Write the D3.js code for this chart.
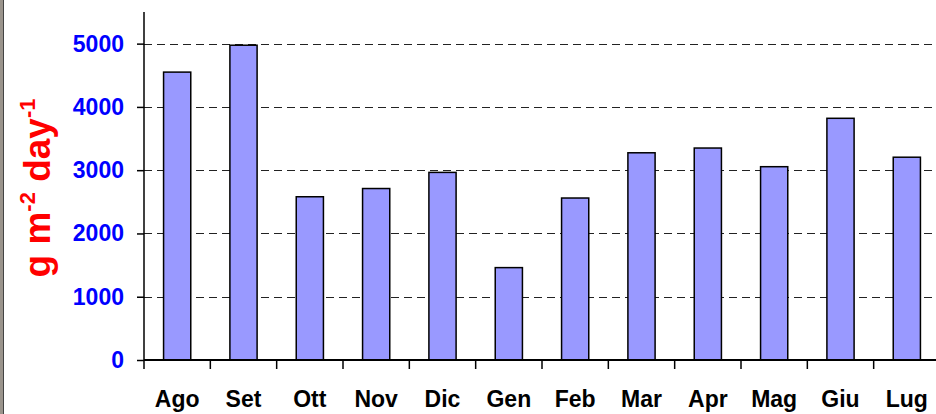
<!DOCTYPE html>
<html>
<head>
<meta charset="utf-8">
<script src="https://cdn.jsdelivr.net/npm/d3@7"></script>
<style>
  body { margin: 0; background: #fff; }
  svg { display: block; font-family: "Liberation Sans", Arial, sans-serif; }
</style>
</head>
<body>
<div id="wrapper"></div>
<script>
// mesi e valori (g m-2 day-1)
const months = ["Ago", "Set", "Ott", "Nov", "Dic", "Gen", "Feb", "Mar", "Apr", "Mag", "Giu", "Lug"];
const values = [4550, 4975, 2580, 2710, 2965, 1460, 2560, 3275, 3350, 3055, 3820, 3205];
const yTicks = [0, 1000, 2000, 3000, 4000, 5000];

const width = 936, height = 414;
const margin = { top: 12, left: 144, bottom: 54, right: -4 };

const svg = d3.select("#wrapper")
    .append("svg")
    .attr("width", width)
    .attr("height", height);

// bordo sinistro
svg.append("rect").attr("x", 0).attr("y", 0).attr("width", 3).attr("height", height).attr("fill", "#9a948c");
svg.append("line").attr("x1", 3.5).attr("x2", 3.5).attr("y1", 0).attr("y2", height)
    .attr("stroke", "#444").attr("stroke-width", 1);

const x = d3.scaleBand()
    .domain(months)
    .range([margin.left, width - margin.right])
    .paddingInner(0.59)
    .paddingOuter(0.295);

const y = d3.scaleLinear()
    .domain([0, 5500])
    .range([height - margin.bottom, margin.top]);

// griglia tratteggiata
svg.append("g")
    .selectAll("line")
    .data(yTicks.filter(d => d > 0))
    .enter()
    .append("line")
    .attr("x1", margin.left)
    .attr("x2", width)
    .attr("y1", d => Math.round(y(d)) + 0.5)
    .attr("y2", d => Math.round(y(d)) + 0.5)
    .attr("stroke", "#222")
    .attr("stroke-width", 1)
    .attr("stroke-dasharray", "8,5");

// barre
svg.append("g")
    .selectAll("rect")
    .data(values)
    .enter()
    .append("rect")
    .attr("x", (d, i) => x(months[i]))
    .attr("y", d => y(d))
    .attr("width", x.bandwidth())
    .attr("height", d => y(0) - y(d))
    .attr("fill", "#9999ff")
    .attr("stroke", "#000")
    .attr("stroke-width", 1.5);

// asse y
const yAxis = svg.append("g")
    .attr("transform", `translate(${margin.left},0)`)
    .call(d3.axisLeft(y).tickValues(yTicks).tickSize(7).tickPadding(13).tickFormat(d3.format("d")));
yAxis.select(".domain").remove();
yAxis.append("line")
    .attr("x1", 0).attr("x2", 0)
    .attr("y1", margin.top).attr("y2", y(0) + 9)
    .attr("stroke", "#000").attr("stroke-width", 1.5);
yAxis.selectAll(".tick line").attr("stroke", "#000").attr("stroke-width", 1.5);
yAxis.selectAll(".tick text")
    .attr("fill", "#0000ff")
    .style("font-size", "23px")
    .style("font-weight", "bold")
    .style("font-family", "'Liberation Sans', Arial, sans-serif");

// asse x
svg.append("line")
    .attr("x1", margin.left).attr("x2", width)
    .attr("y1", y(0)).attr("y2", y(0))
    .attr("stroke", "#000").attr("stroke-width", 2);

svg.append("g")
    .selectAll("line")
    .data(months)
    .enter()
    .append("line")
    .attr("x1", d => x(d) + x.bandwidth() / 2 + x.step() / 2)
    .attr("x2", d => x(d) + x.bandwidth() / 2 + x.step() / 2)
    .attr("y1", y(0))
    .attr("y2", y(0) + 9)
    .attr("stroke", "#000")
    .attr("stroke-width", 1.5);

svg.append("g")
    .selectAll("text")
    .data(months)
    .enter()
    .append("text")
    .attr("x", d => x(d) + x.bandwidth() / 2)
    .attr("y", 407)
    .attr("text-anchor", "middle")
    .style("font-size", "23px")
    .style("font-weight", "bold")
    .attr("fill", "#000")
    .text(d => d);

// titolo asse y
const title = svg.append("text")
    .attr("transform", `translate(50,${(y(0) + margin.top) / 2 + 2}) rotate(-90)`)
    .attr("text-anchor", "middle")
    .attr("fill", "#ff0000")
    .style("font-size", "37px")
    .style("font-weight", "bold");
title.append("tspan").text("g m");
title.append("tspan").attr("dy", -15).style("font-size", "22px").text("-2");
title.append("tspan").attr("dy", 15).text(" day");
title.append("tspan").attr("dy", -15).style("font-size", "22px").text("-1");
</script>
</body>
</html>
